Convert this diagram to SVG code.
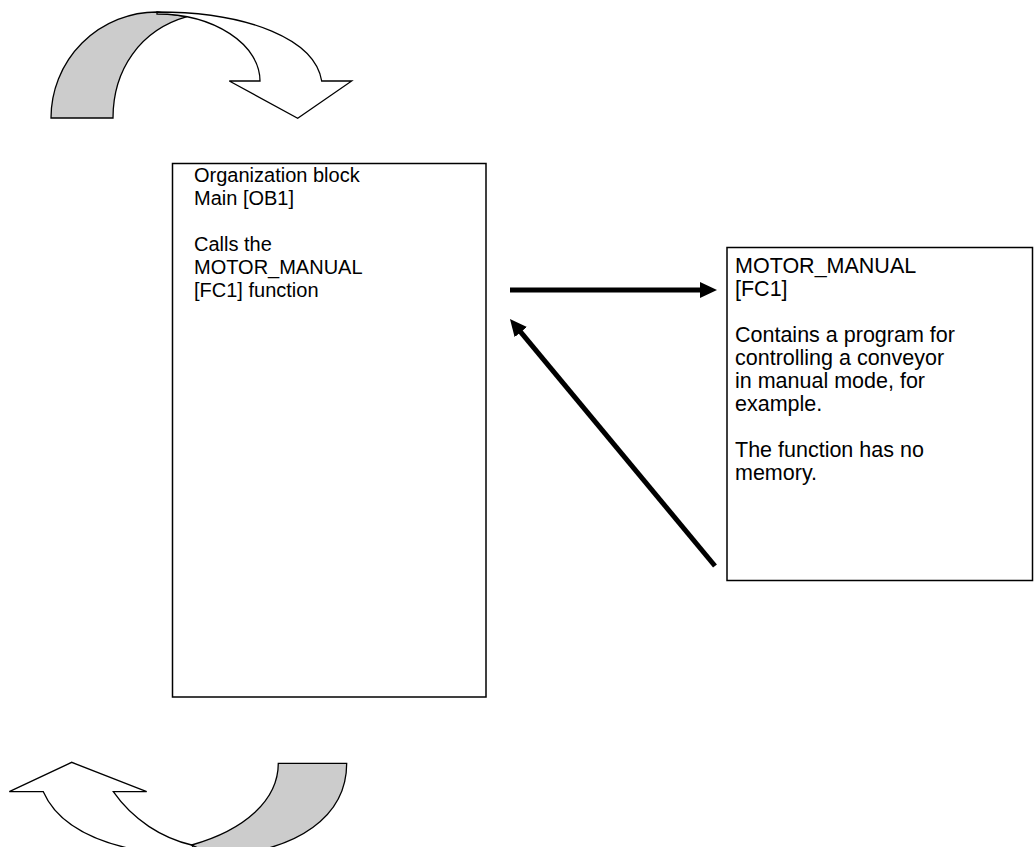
<svg xmlns="http://www.w3.org/2000/svg" width="1034" height="847" viewBox="0 0 1034 847">
  <style>
    .box { fill: #ffffff; stroke: #000000; stroke-width: 1.5; }
    .label { font-family: "Liberation Sans", Arial, sans-serif; font-size: 20px; fill: #000000; }
    #fc1 .label { font-size: 21.5px; }
    .band-back { fill: #cccccc; stroke: #000000; stroke-width: 1.3; stroke-linejoin: miter; }
    .band-front { fill: #ffffff; stroke: #000000; stroke-width: 1.3; stroke-linejoin: miter; }
    .flow { stroke: #000000; stroke-width: 5; fill: none; }
  </style>
  <defs>
    <marker id="head" markerUnits="userSpaceOnUse" markerWidth="17" markerHeight="16" refX="3" refY="8" orient="auto">
      <path d="M0,0 L17,8 L0,16 Z" fill="#000000"/>
    </marker>
  </defs>
  <rect width="1034" height="847" fill="#ffffff"/>

  <!-- cycle start: curved arrow entering the organization block -->
  <g id="cycle-start">
    <path class="band-back" d="M51,118 A106,106 0 0 1 157,12 L187,16.7 C140,30 113,70 113,118 Z"/>
    <path class="band-front" d="M157,12 C250,12 315,40 321.7,81 L351.7,81 L297.7,118.3 L229.3,81 L260,81 A103,67 0 0 0 157,14 Z"/>
  </g>

  <!-- cycle end: curved arrow leaving the organization block -->
  <g id="cycle-end">
    <path class="band-front" d="M113.3,791.7 L146.7,791.7 L71.7,762.3 L9.3,791.7 L43.3,791.7 C60,830 110,850 180,856 L200,856 L191.7,845 C162,838 133,820 113.3,791.7 Z"/>
    <path class="band-back" d="M278.3,763.3 L346.7,763.3 C346.7,815 300,852 215,856 L191.7,845 C245,830 278.3,800 278.3,763.3 Z"/>
  </g>

  <!-- OB1 -->
  <g id="ob1">
    <rect class="box" x="172.5" y="163.5" width="313.5" height="533.5"/>
    <text class="label">
      <tspan x="194" y="182">Organization block</tspan>
      <tspan x="194" y="205">Main [OB1]</tspan>
      <tspan x="194" y="251">Calls the</tspan>
      <tspan x="194" y="274">MOTOR_MANUAL</tspan>
      <tspan x="194" y="297">[FC1] function</tspan>
    </text>
  </g>

  <!-- FC1 -->
  <g id="fc1">
    <rect class="box" x="727" y="247.5" width="305.5" height="333"/>
    <text class="label">
      <tspan x="735" y="273">MOTOR_MANUAL</tspan>
      <tspan x="735" y="296">[FC1]</tspan>
      <tspan x="735" y="342">Contains a program for</tspan>
      <tspan x="735" y="365">controlling a conveyor</tspan>
      <tspan x="735" y="388">in manual mode, for</tspan>
      <tspan x="735" y="411">example.</tspan>
      <tspan x="735" y="457">The function has no</tspan>
      <tspan x="735" y="480">memory.</tspan>
    </text>
  </g>

  <!-- call and return -->
  <g id="connectors">
    <line class="flow" x1="510" y1="290" x2="703" y2="290" marker-end="url(#head)"/>
    <line class="flow" x1="715" y1="566" x2="518.9" y2="329.8" marker-end="url(#head)"/>
  </g>
</svg>
